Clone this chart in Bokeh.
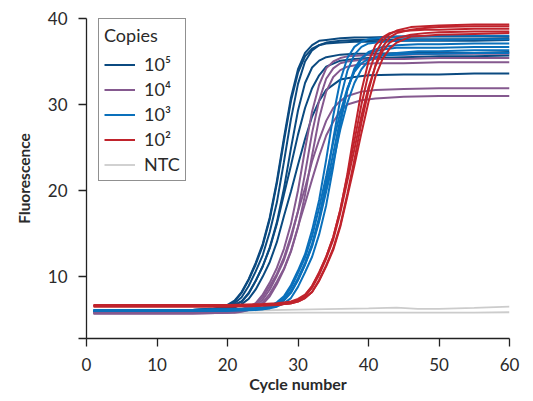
from bokeh.plotting import figure
from bokeh.models import Legend, LegendItem, FixedTicker, Range1d
from bokeh.embed import file_html
from bokeh.resources import INLINE

# ---------------- data ----------------
x_ticks = [0, 10, 20, 30, 40, 50, 60]
y_ticks = [2.8, 10, 20, 30, 40]
legend_labels = ["10\u2075", "10\u2074", "10\u00b3", "10\u00b2", "NTC"]

cycles_1e5 = [1, 5, 10, 15, 18, 19, 20, 21, 22, 23, 24, 25, 26, 27, 28, 29, 30, 31, 32, 33, 34, 36, 38, 40, 45, 50, 55, 60]
copies_1e5 = [
    [6.0, 6.0, 6.0, 6.1, 6.3, 6.4, 6.7, 7.2, 8.2, 9.7, 11.6, 13.8, 16.9, 21.1, 26.1, 30.8, 34.1, 36.0, 36.9, 37.4, 37.5, 37.7, 37.8, 37.8, 37.9, 37.9, 37.9, 37.9],
    [6.0, 6.0, 6.0, 6.1, 6.2, 6.3, 6.5, 6.9, 7.6, 8.9, 10.6, 12.5, 15.2, 18.6, 23.3, 28.3, 32.4, 35.0, 36.3, 36.9, 37.2, 37.4, 37.5, 37.5, 37.6, 37.6, 37.6, 37.7],
    [5.9, 5.9, 5.9, 6.0, 6.2, 6.3, 6.6, 7.1, 8.1, 9.6, 11.4, 13.6, 16.7, 20.8, 25.7, 30.4, 33.7, 35.6, 36.5, 36.9, 37.1, 37.2, 37.3, 37.3, 37.4, 37.4, 37.4, 37.5],
    [6.0, 6.0, 6.0, 6.1, 6.2, 6.2, 6.4, 6.7, 7.1, 8.1, 9.5, 11.2, 13.4, 16.3, 20.2, 24.9, 29.3, 32.5, 34.3, 35.1, 35.5, 35.8, 35.9, 35.9, 36.0, 36.0, 36.0, 36.1],
    [6.0, 6.0, 6.0, 6.0, 6.1, 6.2, 6.4, 6.7, 7.1, 8.0, 9.5, 11.2, 13.3, 16.1, 19.5, 22.9, 26.5, 29.6, 31.9, 33.4, 34.4, 35.1, 35.3, 35.4, 35.5, 35.6, 35.6, 35.7],
    [6.0, 6.0, 6.0, 6.0, 6.1, 6.2, 6.3, 6.4, 6.8, 7.4, 8.5, 10.0, 11.7, 14.0, 17.0, 19.9, 23.0, 26.0, 28.6, 30.4, 31.7, 32.9, 33.2, 33.4, 33.5, 33.5, 33.6, 33.6],
]

cycles_1e4 = [1, 5, 10, 15, 20, 21, 22, 23, 24, 25, 26, 27, 28, 29, 30, 31, 32, 33, 34, 35, 36, 37, 39, 41, 45, 50, 55, 60]
copies_1e4 = [
    [5.8, 5.8, 5.8, 5.8, 5.9, 6.0, 6.2, 6.5, 6.9, 7.9, 9.3, 11.0, 13.2, 16.1, 20.0, 24.8, 29.2, 32.3, 34.2, 35.0, 35.4, 35.6, 35.7, 35.8, 35.8, 35.9, 35.9, 35.9],
    [5.8, 5.8, 5.8, 5.8, 5.9, 6.0, 6.1, 6.3, 6.6, 7.3, 8.5, 10.1, 11.9, 14.4, 17.6, 22.0, 26.7, 30.5, 33.0, 34.2, 34.8, 35.0, 35.2, 35.3, 35.3, 35.4, 35.4, 35.4],
    [5.7, 5.7, 5.7, 5.7, 5.8, 5.8, 5.9, 6.1, 6.3, 6.8, 7.7, 9.1, 10.8, 12.9, 15.7, 19.5, 24.1, 28.4, 31.5, 33.2, 34.0, 34.4, 34.7, 34.8, 34.8, 34.9, 34.9, 34.9],
    [5.8, 5.8, 5.8, 5.8, 5.9, 6.0, 6.1, 6.4, 6.8, 7.6, 8.9, 10.3, 12.2, 14.7, 17.6, 20.3, 23.4, 25.9, 28.1, 29.6, 30.4, 31.0, 31.5, 31.7, 31.8, 31.9, 31.9, 31.9],
    [5.7, 5.7, 5.7, 5.7, 5.8, 5.9, 6.0, 6.1, 6.4, 7.0, 8.0, 9.4, 10.9, 13.0, 15.8, 18.5, 21.3, 24.0, 26.4, 28.0, 29.2, 30.0, 30.5, 30.7, 30.9, 31.0, 31.0, 31.0],
]

cycles_1e3 = [1, 5, 10, 15, 20, 24, 25, 26, 27, 28, 29, 30, 31, 32, 33, 34, 35, 36, 37, 38, 39, 40, 42, 44, 47, 50, 55, 60]
copies_1e3 = [
    [6.1, 6.1, 6.1, 6.1, 6.2, 6.3, 6.4, 6.6, 7.0, 7.7, 9.0, 10.7, 12.6, 15.4, 18.9, 23.6, 28.7, 32.8, 35.4, 36.7, 37.3, 37.6, 37.8, 37.9, 37.9, 38.0, 38.0, 38.0],
    [6.1, 6.1, 6.1, 6.1, 6.2, 6.3, 6.4, 6.5, 6.8, 7.3, 8.3, 9.8, 11.6, 13.8, 16.9, 21.0, 26.0, 30.6, 33.9, 35.8, 36.7, 37.1, 37.3, 37.4, 37.5, 37.5, 37.6, 37.6],
    [6.0, 6.0, 6.0, 6.0, 6.1, 6.2, 6.2, 6.4, 6.7, 7.2, 8.1, 9.6, 11.4, 13.6, 16.6, 20.4, 24.3, 28.3, 31.7, 33.9, 35.3, 36.1, 36.7, 36.9, 37.0, 37.0, 37.1, 37.1],
    [6.0, 6.0, 6.0, 6.0, 6.0, 6.1, 6.2, 6.3, 6.5, 6.9, 7.5, 8.8, 10.5, 12.3, 14.9, 18.3, 22.8, 27.7, 31.7, 34.2, 35.4, 36.0, 36.4, 36.6, 36.6, 36.6, 36.7, 36.7],
    [6.1, 6.1, 6.1, 6.1, 6.2, 6.3, 6.3, 6.5, 6.8, 7.3, 8.2, 9.6, 11.4, 13.5, 16.4, 19.9, 23.3, 27.1, 30.2, 32.5, 34.1, 35.1, 35.8, 36.0, 36.2, 36.2, 36.3, 36.3],
    [6.0, 6.0, 6.0, 6.0, 6.1, 6.2, 6.3, 6.5, 6.8, 7.5, 8.7, 10.4, 12.2, 14.7, 18.0, 21.7, 25.6, 29.1, 31.9, 33.8, 34.8, 35.3, 35.7, 35.8, 35.9, 35.9, 36.0, 36.0],
]

cycles_1e2 = [1, 5, 10, 15, 20, 25, 27, 28, 29, 30, 31, 32, 33, 34, 35, 36, 37, 38, 39, 40, 41, 42, 43, 44, 46, 48, 50, 55, 60]
copies_1e2 = [
    [6.6, 6.6, 6.6, 6.6, 6.6, 6.7, 6.8, 6.9, 7.0, 7.3, 7.8, 8.9, 10.4, 12.3, 14.6, 17.8, 21.7, 25.8, 30.0, 33.6, 36.0, 37.4, 38.2, 38.6, 39.0, 39.1, 39.2, 39.3, 39.3],
    [6.6, 6.6, 6.6, 6.6, 6.6, 6.7, 6.7, 6.8, 6.9, 7.1, 7.5, 8.2, 9.6, 11.3, 13.3, 16.0, 19.6, 23.6, 27.9, 31.6, 34.6, 36.7, 37.8, 38.3, 38.7, 38.9, 39.0, 39.1, 39.1],
    [6.5, 6.5, 6.5, 6.5, 6.5, 6.6, 6.7, 6.8, 6.9, 7.2, 7.7, 8.7, 10.2, 12.1, 14.3, 17.4, 21.1, 24.8, 28.7, 32.0, 34.5, 36.2, 37.2, 37.7, 38.1, 38.3, 38.4, 38.5, 38.5],
    [6.6, 6.6, 6.6, 6.6, 6.6, 6.7, 6.7, 6.8, 6.9, 7.1, 7.5, 8.2, 9.5, 11.2, 13.1, 15.8, 19.3, 22.9, 26.7, 30.3, 33.3, 35.3, 36.5, 37.2, 37.9, 38.0, 38.1, 38.2, 38.3],
    [6.7, 6.7, 6.7, 6.7, 6.7, 6.8, 6.9, 7.0, 7.1, 7.4, 7.9, 8.9, 10.5, 12.3, 14.6, 17.7, 21.9, 26.9, 31.6, 35.0, 36.9, 37.8, 38.3, 38.5, 38.6, 38.7, 38.7, 38.8, 38.8],
]

cycles_ntc = [1, 10, 20, 30, 40, 44, 47, 50, 55, 60]
copies_ntc = [
    [5.7, 5.7, 5.75, 5.8, 5.8, 5.8, 5.8, 5.8, 5.8, 5.85],
    [5.9, 5.95, 6.0, 6.15, 6.3, 6.4, 6.25, 6.25, 6.35, 6.5],
]

# ---------------- styling ----------------
FONT = "Lato"
TEXT = "#2a2a2a"
colors = {"1e5": "#0b4a80", "1e4": "#85598f", "1e3": "#0a70bb", "1e2": "#c0232c", "ntc": "#cccccc"}

p = figure(width=525, height=400, output_backend="svg", toolbar_location=None,
           x_range=Range1d(0, 60), y_range=Range1d(2.8, 40),
           min_border_left=86, min_border_right=16, min_border_top=18, min_border_bottom=62)
p.outline_line_color = None
p.xgrid.visible = False
p.ygrid.visible = False
p.background_fill_color = "white"
p.border_fill_color = "white"

def group(cycles, series, color, width=2.0):
    xs = [cycles for _ in series]
    return p.multi_line(xs, series, line_color=color, line_width=width, line_alpha=1.0)

r_ntc = group(cycles_ntc, copies_ntc, colors["ntc"], 1.8)
r5 = group(cycles_1e5, copies_1e5, colors["1e5"])
r4 = group(cycles_1e4, copies_1e4, colors["1e4"])
r3 = group(cycles_1e3, copies_1e3, colors["1e3"])
r2 = group(cycles_1e2, copies_1e2, colors["1e2"])

# axes
for ax in (p.xaxis[0], p.yaxis[0]):
    ax.axis_line_color = "#222222"
    ax.axis_line_width = 1.3
    ax.major_tick_line_color = "#222222"
    ax.major_tick_line_width = 1.3
    ax.major_tick_out = 8
    ax.major_tick_in = 0
    ax.minor_tick_line_color = None
    ax.major_label_text_font = FONT
    ax.major_label_text_font_size = "17px"
    ax.major_label_text_color = TEXT
    ax.axis_label_text_font = FONT
    ax.axis_label_text_font_style = "bold"
    ax.axis_label_text_color = TEXT

p.xaxis.ticker = FixedTicker(ticks=x_ticks)
p.yaxis.ticker = FixedTicker(ticks=y_ticks)
p.yaxis.major_label_overrides = {2.8: ""}
p.xaxis.axis_label = "Cycle number"
p.yaxis.axis_label = "Fluorescence"
p.xaxis.axis_label_text_font_size = "16px"
p.yaxis.axis_label_text_font_size = "15.5px"
p.xaxis.major_label_standoff = 11
p.yaxis.major_label_standoff = 11
p.xaxis.axis_label_standoff = 0
p.yaxis.axis_label_standoff = 12

legend = Legend(items=[
    LegendItem(label=legend_labels[0], renderers=[r5]),
    LegendItem(label=legend_labels[1], renderers=[r4]),
    LegendItem(label=legend_labels[2], renderers=[r3]),
    LegendItem(label=legend_labels[3], renderers=[r2]),
    LegendItem(label=legend_labels[4], renderers=[r_ntc]),
], location=(12, 157))
legend.title = "Copies"
legend.title_text_font = FONT
legend.title_text_font_size = "18px"
legend.title_text_font_style = "normal"
legend.title_text_color = TEXT
legend.title_standoff = 7
legend.label_text_font = FONT
legend.label_text_font_size = "18px"
legend.label_text_color = TEXT
legend.label_height = 21
legend.glyph_height = 21
legend.glyph_width = 31
legend.label_standoff = 9
legend.spacing = 3
legend.padding = 5
legend.margin = 0
legend.border_line_color = "#222222"
legend.border_line_width = 1.3
legend.background_fill_color = "white"
legend.background_fill_alpha = 1.0
p.add_layout(legend)

open("out.html", "w").write(file_html(p, INLINE))
